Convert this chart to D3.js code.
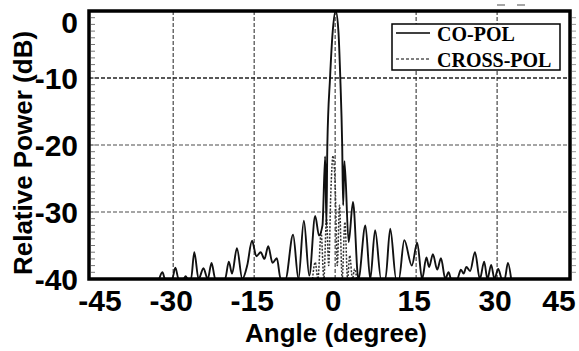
<!DOCTYPE html>
<html>
<head>
<meta charset="utf-8">
<script src="https://cdn.jsdelivr.net/npm/d3@7"></script>
<style>
  html, body { margin: 0; padding: 0; background: #fff; }
  svg { display: block; }
</style>
</head>
<body>
<svg id="chart" width="579" height="351"></svg>
<script>
// Radiation pattern: angle (degree) vs relative power (dB)
const angleTicks = [-45, -30, -15, 0, 15, 30, 45];
const angleGrid = [-30, -15, 0, 15, 30];
const powerTicks = [0, -10, -20, -30, -40];
const powerGrid = [-10, -20, -30];
const seriesNames = ["CO-POL", "CROSS-POL"];

// Co-polar pattern [angle, dB]
const coPol = [
  [-32.6, -40], [-32.0, -39.0], [-31.5, -40],
  [-30.2, -40], [-29.6, -38.3], [-29.0, -40],
  [-28.1, -40], [-27.7, -39.6], [-27.3, -40],
  [-26.7, -40], [-26.1, -36.0], [-25.3, -40],
  [-24.4, -38.4], [-23.6, -40],
  [-22.9, -37.6], [-22.2, -40],
  [-20.4, -40], [-19.7, -37.4], [-19.1, -39.2], [-18.2, -35.4], [-17.2, -40],
  [-16.3, -38.0], [-15.4, -34.3], [-14.6, -36.6], [-13.8, -36.0], [-13.1, -37.0],
  [-12.4, -35.1], [-11.6, -37.6], [-10.8, -36.9], [-10.1, -40],
  [-9.2, -40], [-7.8, -33.4], [-6.8, -40],
  [-5.8, -31.3], [-4.8, -39.5],
  [-3.7, -30.6], [-3.0, -33.5], [-2.35, -32.0], [-1.85, -21.7], [-1.62, -32.0],
  [-1.45, -20], [-0.95, -10], [-0.45, -3], [0.1, 0], [0.6, -3], [0.95, -10], [1.3, -20], [1.48, -29],
  [1.72, -22.4], [2.5, -34.5],
  [3.3, -28.5], [4.3, -40],
  [5.6, -32.0], [6.5, -40],
  [7.4, -32.7], [8.5, -40],
  [9.3, -40], [10.2, -32.5], [11.3, -40],
  [11.8, -40], [12.8, -34.2], [14.2, -38.0],
  [15.2, -34.6], [16.1, -40],
  [16.9, -36.8], [17.4, -38.2], [18.1, -36.3], [18.9, -38.6], [19.6, -36.9], [20.4, -40],
  [21.0, -39.0], [21.5, -40], [22.6, -40],
  [23.3, -38.6], [23.8, -39.2], [24.3, -38.2], [25.0, -38.8], [25.9, -36.0], [26.8, -40],
  [27.6, -37.4], [28.2, -40],
  [28.9, -37.9], [29.5, -40],
  [30.2, -38.5], [30.9, -40],
  [31.4, -40], [32.0, -37.6], [32.6, -40]
];

// Cross-polar pattern [angle, dB]
const crossPol = [
  [-4.2, -40], [-3.7, -37.5], [-3.2, -40], [-2.6, -33.0], [-2.1, -40],
  [-1.6, -31.0], [-1.2, -38.0], [-0.8, -27.0], [-0.4, -21.6], [0.0, -26.0],
  [0.4, -38.0], [0.8, -29.0], [1.3, -40], [1.8, -31.5], [2.3, -40],
  [2.7, -36.5], [3.2, -40], [3.6, -38.5], [4.0, -40]
];

const svg = d3.select("#chart");
const plotL = 89, plotR = 570, plotT = 11, plotB = 279;

const x = d3.scaleLinear().domain([-45.6, 43.5]).range([plotL, plotR]);
const y = d3.scaleLinear().domain([-40, 0]).range([plotB, plotT]);

// grid
const grid = svg.append("g");
grid.selectAll("line.v").data(angleGrid).join("line")
  .attr("x1", d => x(d)).attr("x2", d => x(d))
  .attr("y1", plotT).attr("y2", plotB)
  .attr("stroke", "#555").attr("stroke-width", 1.3)
  .attr("stroke-dasharray", "4,2");
grid.selectAll("line.h").data(powerGrid).join("line")
  .attr("x1", plotL).attr("x2", plotR)
  .attr("y1", d => y(d)).attr("y2", d => y(d))
  .attr("stroke", d => d === -10 ? "#222" : "#888").attr("stroke-width", 1.5)
  .attr("stroke-dasharray", "4,2");

// minor ticks on left (inside) and right (outside) borders
const minor = d3.range(-39, 0, 1);
svg.append("g").selectAll("line").data(minor).join("line")
  .attr("x1", plotL + 2).attr("x2", plotL + 6)
  .attr("y1", d => y(d)).attr("y2", d => y(d))
  .attr("stroke", "#777").attr("stroke-width", 1);
svg.append("g").selectAll("line").data(minor).join("line")
  .attr("x1", plotR + 2).attr("x2", plotR + 6)
  .attr("y1", d => y(d)).attr("y2", d => y(d))
  .attr("stroke", "#999").attr("stroke-width", 1);

// data
svg.append("clipPath").attr("id", "plot").append("rect")
  .attr("x", plotL).attr("y", plotT).attr("width", plotR - plotL).attr("height", plotB - plotT);

const line = d3.line().x(d => x(d[0])).y(d => y(d[1])).curve(d3.curveMonotoneX);

svg.append("path").datum(crossPol)
  .attr("clip-path", "url(#plot)")
  .attr("fill", "none").attr("stroke", "#333").attr("stroke-width", 1.5)
  .attr("stroke-dasharray", "2,1.5")
  .attr("d", line);

svg.append("path").datum(coPol)
  .attr("clip-path", "url(#plot)")
  .attr("fill", "none").attr("stroke", "#111").attr("stroke-width", 1.9)
  .attr("stroke-linejoin", "round")
  .attr("d", line);

// frame
svg.append("rect")
  .attr("x", plotL).attr("y", plotT).attr("width", plotR - plotL).attr("height", plotB - plotT)
  .attr("fill", "none").attr("stroke", "#000").attr("stroke-width", 3.5);

// tick labels (edge labels are kept inside the canvas)
svg.append("g").selectAll("text").data(angleTicks).join("text")
  .attr("x", d => Math.max(100, Math.min(559, x(d) - 2)))
  .attr("y", 311)
  .attr("text-anchor", "middle")
  .attr("font-family", "Liberation Sans, Arial, sans-serif")
  .attr("font-weight", "bold").attr("font-size", 30)
  .attr("fill", "#000")
  .text(d => d);

svg.append("g").selectAll("text").data(powerTicks).join("text")
  .attr("x", 78)
  .attr("y", d => Math.max(22, y(d)) + 10.5)
  .attr("text-anchor", "end")
  .attr("font-family", "Liberation Sans, Arial, sans-serif")
  .attr("font-weight", "bold").attr("font-size", 30)
  .attr("fill", "#000")
  .text(d => d);

// axis titles
svg.append("text")
  .attr("x", 336).attr("y", 342)
  .attr("text-anchor", "middle")
  .attr("font-family", "Liberation Sans, Arial, sans-serif")
  .attr("font-weight", "bold").attr("font-size", 26)
  .text("Angle (degree)");

svg.append("text")
  .attr("transform", "translate(32,153) rotate(-90)")
  .attr("text-anchor", "middle")
  .attr("font-family", "Liberation Sans, Arial, sans-serif")
  .attr("font-weight", "bold").attr("font-size", 26)
  .text("Relative Power (dB)");

// legend
const lg = svg.append("g");
lg.append("rect").attr("x", 392).attr("y", 24).attr("width", 168).attr("height", 46)
  .attr("fill", "#fff").attr("stroke", "#000").attr("stroke-width", 1.5);
const legendRows = [
  { name: seriesNames[0], dash: null, yy: 33 },
  { name: seriesNames[1], dash: "3,2", yy: 59 }
];
legendRows.forEach(r => {
  lg.append("line").attr("x1", 396).attr("x2", 430).attr("y1", r.yy).attr("y2", r.yy)
    .attr("stroke", "#000").attr("stroke-width", r.dash ? 1 : 1.5)
    .attr("stroke-dasharray", r.dash);
  lg.append("text").attr("x", 437).attr("y", r.yy + 8)
    .attr("font-family", "Liberation Serif, Times New Roman, serif")
    .attr("font-weight", "bold").attr("font-size", 20)
    .text(r.name);
});

// small marks above the frame
svg.append("g").selectAll("line").data([[497, 505], [517, 525]]).join("line")
  .attr("x1", d => d[0]).attr("x2", d => d[1]).attr("y1", 5).attr("y2", 5)
  .attr("stroke", "#888").attr("stroke-width", 1.5);
</script>
</body>
</html>
